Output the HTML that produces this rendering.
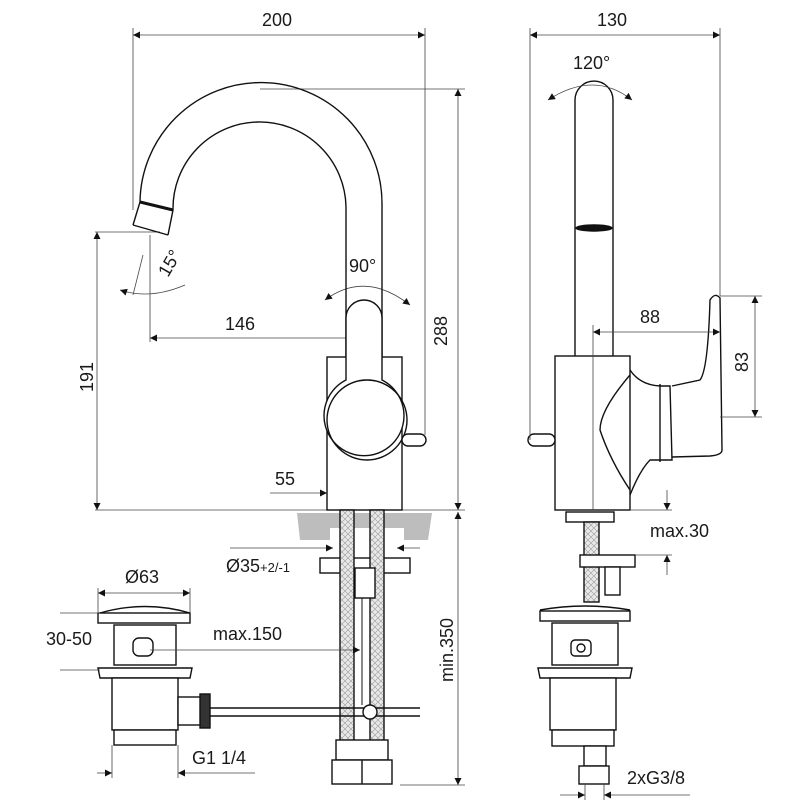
<!DOCTYPE html>
<html><head><meta charset="utf-8"><style>
html,body{margin:0;padding:0;background:#fff}
svg{display:block}
text{font-family:"Liberation Sans",Arial,sans-serif;fill:#1a1a1a}
</style></head><body>
<svg width="807" height="807" viewBox="0 0 807 807" xmlns="http://www.w3.org/2000/svg">
<defs>
<marker id="a" viewBox="0 0 10 10" refX="10" refY="5" markerWidth="13" markerHeight="7" orient="auto-start-reverse" markerUnits="userSpaceOnUse"><path d="M0,0L10,5L0,10z" fill="#111"/></marker>
<pattern id="h" width="6" height="6" patternUnits="userSpaceOnUse"><rect width="6" height="6" fill="#e8e8e8"/><path d="M0,0L6,6M6,0L0,6" stroke="#999" stroke-width="0.6"/></pattern>
</defs>
<g stroke="#444" stroke-width="0.8" fill="none">
<line x1="133" y1="35" x2="425" y2="35" marker-start="url(#a)" marker-end="url(#a)"/>
<line x1="133" y1="28" x2="133" y2="210"/>
<line x1="425" y1="28" x2="425" y2="435"/>
<line x1="260" y1="89" x2="465" y2="89"/>
<line x1="458" y1="89" x2="458" y2="510" marker-start="url(#a)" marker-end="url(#a)"/>
<line x1="95" y1="232" x2="160" y2="232"/>
<line x1="97" y1="232" x2="97" y2="510" marker-start="url(#a)" marker-end="url(#a)"/>
<line x1="95" y1="510" x2="465" y2="510"/>
<line x1="150" y1="235" x2="150" y2="342"/>
<line x1="150" y1="338" x2="363" y2="338" marker-start="url(#a)" marker-end="url(#a)"/>
<line x1="363" y1="305" x2="363" y2="342"/>
<path d="M120,290 Q150,300 185,285" marker-start="url(#a)"/>
<line x1="143" y1="255" x2="133" y2="295"/>
<path d="M325,300 Q365,270 410,305" marker-start="url(#a)" marker-end="url(#a)"/>
<line x1="270" y1="493" x2="327" y2="493" marker-end="url(#a)"/>
<line x1="230" y1="548" x2="333" y2="548" marker-end="url(#a)"/>
<line x1="420" y1="548" x2="397" y2="548" marker-end="url(#a)"/>
<line x1="458" y1="512" x2="458" y2="785" marker-start="url(#a)" marker-end="url(#a)"/>
<line x1="400" y1="785" x2="465" y2="785"/>
</g>
<path d="M297,513 L432,513 L428,540 L404,540 L404,528 L330,528 L330,540 L300,540 Z" fill="#bdbdbd"/>
<g stroke="#111" stroke-width="1.4" fill="none">
<path d="M133,225 L140,202 A118,118 0 0 1 382,205 L382,357"/>
<path d="M168,235 L173,210 A86,86 0 0 1 346,207 L346,357"/>
<path d="M133,225 L168,235"/>
<path d="M140,202 L173,210" stroke-width="3"/>
<rect x="327" y="357" width="75" height="153" fill="#fff"/>
<path d="M346,318 A18,18 0 0 1 382,318 L382,380 A40,40 0 1 1 346,380 Z" fill="#fff"/>
<circle cx="367" cy="420" r="40"/>
<rect x="402" y="434" width="24" height="12" rx="6" fill="#fff"/>
<rect x="320" y="558" width="90" height="15" fill="#fff"/>
<rect x="340" y="510" width="14" height="240" fill="url(#h)"/>
<rect x="370" y="510" width="14" height="240" fill="url(#h)"/>
<rect x="355" y="568" width="20" height="30" fill="#fff"/>
<line x1="362" y1="598" x2="362" y2="705" stroke-width="1"/>
<rect x="336" y="740" width="52" height="20" fill="#fff"/>
<rect x="332" y="760" width="60" height="24" fill="#fff"/>
<line x1="362" y1="760" x2="362" y2="784"/>
<line x1="210" y1="708" x2="420" y2="708"/>
<line x1="210" y1="716" x2="420" y2="716"/>
<circle cx="370" cy="712" r="7" fill="#fff"/>
<path d="M100,613 Q145,600 190,613"/>
<rect x="98" y="613" width="92" height="10" fill="#fff"/>
<rect x="114" y="625" width="62" height="40" fill="#fff"/>
<rect x="133" y="638" width="20" height="18" rx="6" fill="#fff"/>
<path d="M98,668 L192,668 L190,678 L100,678 Z" fill="#fff"/>
<rect x="112" y="678" width="66" height="52" fill="#fff"/>
<rect x="114" y="730" width="62" height="15" fill="#fff"/>
<rect x="178" y="697" width="28" height="28" fill="#fff"/>
<rect x="200" y="694" width="10" height="34" fill="#333"/>
<path d="M575,356 L575,100 A19,19 0 0 1 613,100 L613,356"/>
<ellipse cx="594" cy="228" rx="18" ry="3" fill="#111"/>
<rect x="555" y="356" width="75" height="154" fill="#fff"/>
<path d="M630,370 Q640,385 660,386 L670,386 L672,460 L650,460 Q640,470 630,495"/>
<path d="M630,375 Q600,410 600,430 Q610,460 630,490"/>
<path d="M672,386 L700,380 Q708,370 710,300 Q715,292 720,298 L722,450 Q722,455 710,456 L672,457"/>
<path d="M660,384 L660,462"/>
<rect x="528" y="434" width="27" height="12" rx="6" fill="#fff"/>
<rect x="566" y="512" width="48" height="10" fill="#fff"/>
<rect x="584" y="522" width="15" height="80" fill="url(#h)"/>
<rect x="580" y="555" width="55" height="12" fill="#fff"/>
<rect x="605" y="567" width="15" height="28" fill="#fff"/>
<path d="M540,610 Q585,602 630,610"/>
<rect x="540" y="611" width="90" height="10" fill="#fff"/>
<rect x="552" y="623" width="66" height="42" fill="#fff"/>
<rect x="571" y="640" width="20" height="16" rx="4" fill="#fff"/>
<circle cx="581" cy="648" r="4"/>
<path d="M538,668 L632,668 L630,678 L540,678 Z" fill="#fff"/>
<rect x="550" y="678" width="66" height="52" fill="#fff"/>
<rect x="552" y="730" width="62" height="16" fill="#fff"/>
<rect x="584" y="746" width="22" height="20" fill="#fff"/>
<rect x="579" y="766" width="30" height="18" fill="#fff"/>
</g>
<g stroke="#444" stroke-width="0.8" fill="none">
<line x1="530" y1="35" x2="720" y2="35" marker-start="url(#a)" marker-end="url(#a)"/>
<line x1="530" y1="28" x2="530" y2="440"/>
<line x1="720" y1="28" x2="720" y2="296"/>
<path d="M548,100 Q594,70 632,100" marker-start="url(#a)" marker-end="url(#a)"/>
<line x1="593" y1="325" x2="593" y2="510"/>
<line x1="593" y1="332" x2="720" y2="332" marker-start="url(#a)" marker-end="url(#a)"/>
<line x1="720" y1="296" x2="762" y2="296"/><line x1="720" y1="417" x2="762" y2="417"/>
<line x1="755" y1="296" x2="755" y2="417" marker-start="url(#a)" marker-end="url(#a)"/>
<line x1="630" y1="510" x2="672" y2="510"/><line x1="635" y1="555" x2="672" y2="555"/>
<line x1="667" y1="490" x2="667" y2="510" marker-end="url(#a)"/>
<line x1="667" y1="575" x2="667" y2="555" marker-end="url(#a)"/>
<line x1="98" y1="593" x2="190" y2="593" marker-start="url(#a)" marker-end="url(#a)"/>
<line x1="98" y1="588" x2="98" y2="612"/><line x1="190" y1="588" x2="190" y2="612"/>
<line x1="60" y1="613" x2="100" y2="613"/><line x1="60" y1="670" x2="100" y2="670"/>
<line x1="150" y1="650" x2="360" y2="650" marker-end="url(#a)"/>
<line x1="112" y1="745" x2="112" y2="778"/><line x1="178" y1="745" x2="178" y2="778"/>
<line x1="97" y1="773" x2="112" y2="773" marker-end="url(#a)"/>
<line x1="255" y1="773" x2="178" y2="773" marker-end="url(#a)"/>
<line x1="585" y1="784" x2="585" y2="800"/><line x1="604" y1="784" x2="604" y2="800"/>
<line x1="560" y1="795" x2="585" y2="795" marker-end="url(#a)"/>
<line x1="690" y1="795" x2="604" y2="795" marker-end="url(#a)"/>
</g>
<g font-size="18">
<text x="262" y="26">200</text>
<text x="597" y="26">130</text>
<text x="573" y="69">120°</text>
<text x="349" y="272">90°</text>
<text x="225" y="330">146</text>
<text x="640" y="323">88</text>
<text x="275" y="485">55</text>
<text x="650" y="537">max.30</text>
<text x="226" y="572">Ø35<tspan font-size="13">+2/-1</tspan></text>
<text x="125" y="583">Ø63</text>
<text x="46" y="645">30-50</text>
<text x="213" y="640">max.150</text>
<text x="192" y="764">G1 1/4</text>
<text x="627" y="784">2xG3/8</text>
<text transform="translate(168,278) rotate(-60)">15°</text>
<text transform="translate(93,392) rotate(-90)">191</text>
<text transform="translate(447,346) rotate(-90)">288</text>
<text transform="translate(748,372) rotate(-90)">83</text>
<text transform="translate(453,682) rotate(-90)">min.350</text>
</g>
</svg>
</body></html>
